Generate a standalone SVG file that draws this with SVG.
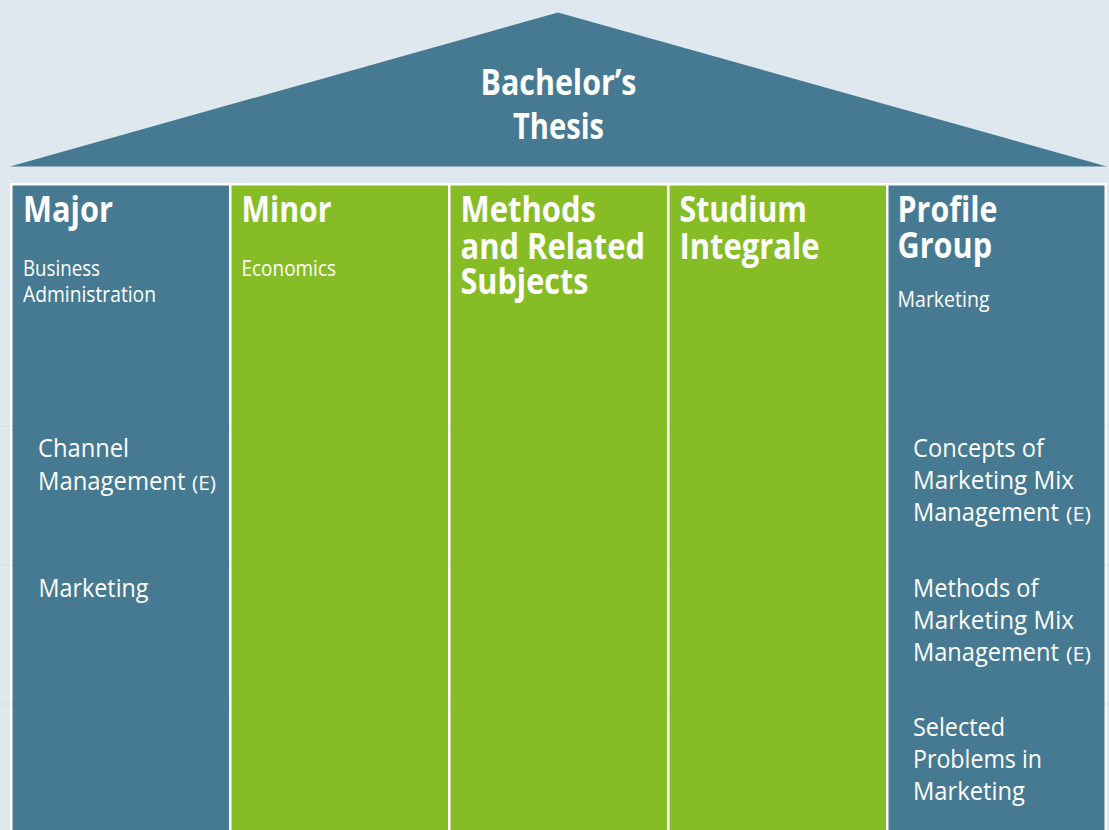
<svg xmlns="http://www.w3.org/2000/svg" width="1109" height="830" viewBox="0 0 1109 830">
<style>
text{font-family:"Open Sans","Noto Sans","Liberation Sans",sans-serif;fill:#ffffff}
.t{font-size:35px;font-weight:bold}
.s{font-size:21px}
.i{font-size:26px}
.e{font-size:20px}
.blue{fill:#457a92}
.green{fill:#86bc25}
.rule{stroke:#c9d6df;stroke-width:1;opacity:0.5}
</style>
<rect x="0" y="0" width="1109" height="830" fill="#e0e8ef"/>
<g id="roof">
<polygon class="blue" points="10,166.5 558,12.5 1107,166.5"/>
<text class="t" x="558.5" y="95" text-anchor="middle" textLength="156" lengthAdjust="spacingAndGlyphs">Bachelor’s</text>
<text class="t" x="558.5" y="139" text-anchor="middle" textLength="91" lengthAdjust="spacingAndGlyphs">Thesis</text>
</g>
<rect x="10" y="183" width="1097" height="660" fill="#ffffff"/>
<g id="rules">
<line class="rule" x1="0" y1="426" x2="1109" y2="426"/>
<line class="rule" x1="0" y1="565" x2="1109" y2="565"/>
<line class="rule" x1="0" y1="704" x2="1109" y2="704"/>
</g>
<g id="major">
<rect class="blue" x="12.5" y="185.5" width="216.5" height="650"/>
<text class="t" x="23" y="222" textLength="90" lengthAdjust="spacingAndGlyphs">Major</text>
<text class="s" x="23" y="276" textLength="77" lengthAdjust="spacingAndGlyphs">Business</text>
<text class="s" x="23" y="302" textLength="133" lengthAdjust="spacingAndGlyphs">Administration</text>
<text class="i" x="38" y="457" textLength="91" lengthAdjust="spacingAndGlyphs">Channel</text>
<text class="i" x="38" y="489.5" textLength="147.5" lengthAdjust="spacingAndGlyphs">Management</text>
<text class="e" x="192" y="489.5" textLength="24" lengthAdjust="spacingAndGlyphs">(E)</text>
<text class="i" x="38.5" y="596.5" textLength="110" lengthAdjust="spacingAndGlyphs">Marketing</text>
</g>
<g id="minor">
<rect class="green" x="231.5" y="185.5" width="216.5" height="650"/>
<text class="t" x="241.5" y="222" textLength="90" lengthAdjust="spacingAndGlyphs">Minor</text>
<text class="s" x="241.5" y="276" textLength="94.5" lengthAdjust="spacingAndGlyphs">Economics</text>
</g>
<g id="methods">
<rect class="green" x="450.5" y="185.5" width="216.5" height="650"/>
<text class="t" x="460.5" y="222" textLength="135.5" lengthAdjust="spacingAndGlyphs">Methods</text>
<text class="t" x="460.5" y="258.5" textLength="184.5" lengthAdjust="spacingAndGlyphs">and Related</text>
<text class="t" x="460.5" y="294" textLength="128" lengthAdjust="spacingAndGlyphs">Subjects</text>
</g>
<g id="studium">
<rect class="green" x="669.5" y="185.5" width="216.5" height="650"/>
<text class="t" x="679.5" y="222" textLength="127.5" lengthAdjust="spacingAndGlyphs">Studium</text>
<text class="t" x="679.5" y="258.5" textLength="140" lengthAdjust="spacingAndGlyphs">Integrale</text>
</g>
<g id="profile">
<rect class="blue" x="888.5" y="185.5" width="216" height="650"/>
<text class="t" x="897.5" y="222" textLength="100" lengthAdjust="spacingAndGlyphs">Profile</text>
<text class="t" x="897.5" y="258" textLength="94.5" lengthAdjust="spacingAndGlyphs">Group</text>
<text class="s" x="897.5" y="306.5" textLength="92" lengthAdjust="spacingAndGlyphs">Marketing</text>
<text class="i" x="913" y="457" textLength="131" lengthAdjust="spacingAndGlyphs">Concepts of</text>
<text class="i" x="913" y="489" textLength="161" lengthAdjust="spacingAndGlyphs">Marketing Mix</text>
<text class="i" x="913" y="521" textLength="146" lengthAdjust="spacingAndGlyphs">Management</text>
<text class="e" x="1066" y="521" textLength="25" lengthAdjust="spacingAndGlyphs">(E)</text>
<text class="i" x="913" y="597" textLength="125.5" lengthAdjust="spacingAndGlyphs">Methods of</text>
<text class="i" x="913" y="629" textLength="161" lengthAdjust="spacingAndGlyphs">Marketing Mix</text>
<text class="i" x="913" y="661" textLength="146" lengthAdjust="spacingAndGlyphs">Management</text>
<text class="e" x="1066" y="661" textLength="25" lengthAdjust="spacingAndGlyphs">(E)</text>
<text class="i" x="913" y="736" textLength="92" lengthAdjust="spacingAndGlyphs">Selected</text>
<text class="i" x="913" y="768" textLength="129" lengthAdjust="spacingAndGlyphs">Problems in</text>
<text class="i" x="913" y="800" textLength="112" lengthAdjust="spacingAndGlyphs">Marketing</text>
</g>
</svg>
